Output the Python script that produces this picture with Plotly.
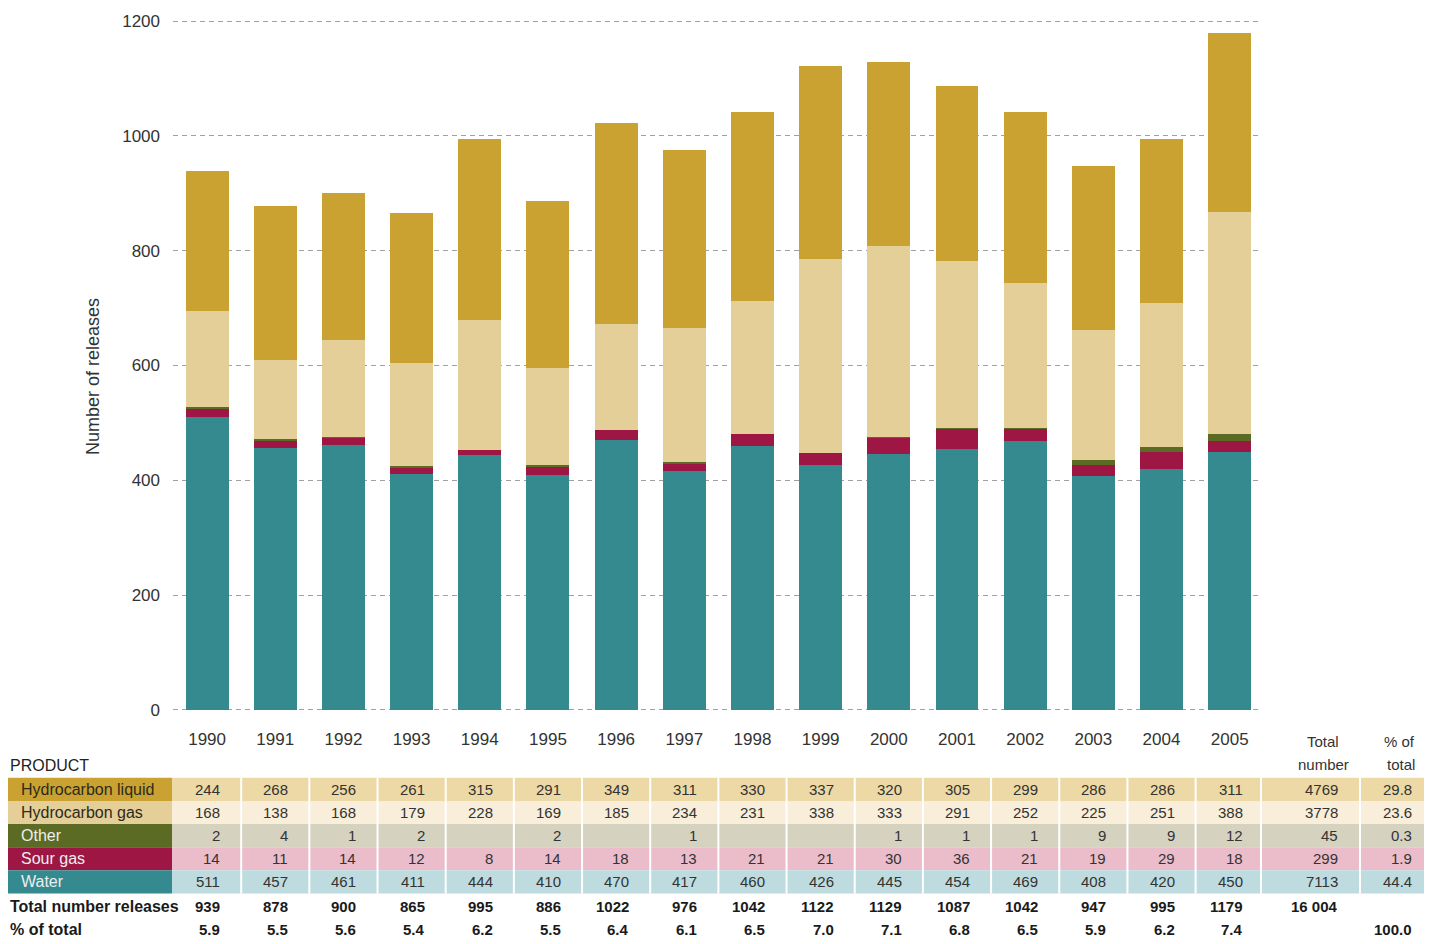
import plotly.graph_objects as go

# ---------------- data ----------------
years = ["1990", "1991", "1992", "1993", "1994", "1995", "1996", "1997",
         "1998", "1999", "2000", "2001", "2002", "2003", "2004", "2005"]
hc_liquid = [244, 268, 256, 261, 315, 291, 349, 311, 330, 337, 320, 305, 299, 286, 286, 311]
hc_gas = [168, 138, 168, 179, 228, 169, 185, 234, 231, 338, 333, 291, 252, 225, 251, 388]
other = [2, 4, 1, 2, None, 2, None, 1, None, None, 1, 1, 1, 9, 9, 12]
sour_gas = [14, 11, 14, 12, 8, 14, 18, 13, 21, 21, 30, 36, 21, 19, 29, 18]
water = [511, 457, 461, 411, 444, 410, 470, 417, 460, 426, 445, 454, 469, 408, 420, 450]
total_releases = [939, 878, 900, 865, 995, 886, 1022, 976, 1042, 1122, 1129, 1087, 1042, 947, 995, 1179]
pct_of_total = ["5.9", "5.5", "5.6", "5.4", "6.2", "5.5", "6.4", "6.1",
                "6.5", "7.0", "7.1", "6.8", "6.5", "5.9", "6.2", "7.4"]
product_labels = ["Hydrocarbon liquid", "Hydrocarbon gas", "Other", "Sour gas", "Water"]
product_total_number = ["4769", "3778", "45", "299", "7113"]
product_pct = ["29.8", "23.6", "0.3", "1.9", "44.4"]
grand_total = "16 004"
grand_pct = "100.0"
y_ticks = [0, 200, 400, 600, 800, 1000, 1200]

# ---------------- styles ----------------
FONT = "Liberation Sans, Arial, sans-serif"
bar_colors = {"Hydrocarbon liquid": "#C9A232", "Hydrocarbon gas": "#E3CF97",
              "Other": "#5B6B24", "Sour gas": "#9E1644", "Water": "#348A8F"}
row_bg = {"Hydrocarbon liquid": "#EDD9A5", "Hydrocarbon gas": "#F8EEDA",
          "Other": "#D5D2C0", "Sour gas": "#EBBDCB", "Water": "#BEDCDF"}
label_txt = {"Hydrocarbon liquid": "#2e2a1a", "Hydrocarbon gas": "#2e2a1a",
             "Other": "#eeeeee", "Sour gas": "#eeeeee", "Water": "#eeeeee"}

W, H = 1435, 944
L, R, T, B = 173, 1259, 18, 711
XMIN, XMAX = -0.5, 15.43
YMIN, YMAX = -2, 1202


def px(x):
    return (x - L) / (R - L)


def py(y):
    return (B - y) / (B - T)


def col_center(i):
    return L + (i - XMIN) / (XMAX - XMIN) * (R - L)


series = [("Water", water), ("Sour gas", sour_gas), ("Other", other),
          ("Hydrocarbon gas", hc_gas), ("Hydrocarbon liquid", hc_liquid)]

fig = go.Figure()
for name, vals in series:
    fig.add_trace(go.Bar(x=years, y=vals, name=name,
                         marker=dict(color=bar_colors[name], line=dict(width=0)),
                         hoverinfo="x+y+name"))

shapes = []
annotations = []

# y axis title
annotations.append(dict(xref="paper", yref="paper", x=px(93), y=py(376),
                        text="Number of releases", textangle=-90, showarrow=False,
                        font=dict(family=FONT, size=18, color="#333333"),
                        xanchor="center", yanchor="middle"))

# table rows
row_top0 = 778
row_h = 23.2
for k, (name, vals) in enumerate([("Hydrocarbon liquid", hc_liquid), ("Hydrocarbon gas", hc_gas),
                                   ("Other", other), ("Sour gas", sour_gas), ("Water", water)]):
    top = row_top0 + k * row_h
    bot = top + row_h
    cy = (top + bot) / 2
    shapes.append(dict(type="rect", xref="paper", yref="paper", x0=px(172), x1=px(1424),
                       y0=py(bot), y1=py(top), fillcolor=row_bg[name], line=dict(width=0),
                       layer="below"))
    shapes.append(dict(type="rect", xref="paper", yref="paper", x0=px(8), x1=px(172),
                       y0=py(bot), y1=py(top), fillcolor=bar_colors[name], line=dict(width=0),
                       layer="below"))
    annotations.append(dict(xref="paper", yref="paper", x=px(19), y=py(cy), text=name,
                            showarrow=False, xanchor="left", yanchor="middle",
                            font=dict(family=FONT, size=16, color=label_txt[name])))
    for i, v in enumerate(vals):
        if v is None:
            continue
        annotations.append(dict(xref="paper", yref="paper", x=px(col_center(i) + 15), y=py(cy),
                                text=str(v), showarrow=False, xanchor="right", yanchor="middle",
                                font=dict(family=FONT, size=15, color="#333333")))
    annotations.append(dict(xref="paper", yref="paper", x=px(1340), y=py(cy),
                            text=product_total_number[k], showarrow=False, xanchor="right",
                            yanchor="middle", font=dict(family=FONT, size=15, color="#333333")))
    annotations.append(dict(xref="paper", yref="paper", x=px(1414), y=py(cy),
                            text=product_pct[k], showarrow=False, xanchor="right",
                            yanchor="middle", font=dict(family=FONT, size=15, color="#333333")))

table_top = row_top0
table_bot = row_top0 + 5 * row_h
# white column separators
sep_x = [(col_center(i) + col_center(i + 1)) / 2 for i in range(len(years) - 1)] + [1261, 1360]
for sx in sep_x:
    shapes.append(dict(type="line", xref="paper", yref="paper", x0=px(sx), x1=px(sx),
                       y0=py(table_bot), y1=py(table_top), line=dict(color="white", width=2),
                       layer="below"))

# header texts
annotations.append(dict(xref="paper", yref="paper", x=px(8), y=py(766), text="PRODUCT",
                        showarrow=False, xanchor="left", yanchor="middle",
                        font=dict(family=FONT, size=16, color="#222222")))
hdr = dict(family=FONT, size=15, color="#333333")
annotations.append(dict(xref="paper", yref="paper", x=px(1323), y=py(742), text="Total",
                        showarrow=False, xanchor="center", yanchor="middle", font=hdr))
annotations.append(dict(xref="paper", yref="paper", x=px(1323), y=py(765), text="number",
                        showarrow=False, xanchor="center", yanchor="middle", font=hdr))
annotations.append(dict(xref="paper", yref="paper", x=px(1417), y=py(742), text="% of",
                        showarrow=False, xanchor="right", yanchor="middle", font=hdr))
annotations.append(dict(xref="paper", yref="paper", x=px(1417), y=py(765), text="total",
                        showarrow=False, xanchor="right", yanchor="middle", font=hdr))

# totals rows
bold = dict(family=FONT, size=15, color="#1a1a1a")
bold_lbl = dict(family=FONT, size=16, color="#1a1a1a")
annotations.append(dict(xref="paper", yref="paper", x=px(8), y=py(907),
                        text="<b>Total number releases</b>", showarrow=False, xanchor="left",
                        yanchor="middle", font=bold_lbl))
annotations.append(dict(xref="paper", yref="paper", x=px(8), y=py(930),
                        text="<b>% of total</b>", showarrow=False, xanchor="left",
                        yanchor="middle", font=bold_lbl))
for i in range(len(years)):
    annotations.append(dict(xref="paper", yref="paper", x=px(col_center(i) + 15), y=py(907),
                            text="<b>%d</b>" % total_releases[i], showarrow=False,
                            xanchor="right", yanchor="middle", font=bold))
    annotations.append(dict(xref="paper", yref="paper", x=px(col_center(i) + 15), y=py(930),
                            text="<b>%s</b>" % pct_of_total[i], showarrow=False,
                            xanchor="right", yanchor="middle", font=bold))
annotations.append(dict(xref="paper", yref="paper", x=px(1340), y=py(907),
                        text="<b>%s</b>" % grand_total, showarrow=False, xanchor="right",
                        yanchor="middle", font=bold))
annotations.append(dict(xref="paper", yref="paper", x=px(1414), y=py(930),
                        text="<b>%s</b>" % grand_pct, showarrow=False, xanchor="right",
                        yanchor="middle", font=bold))

fig.update_layout(
    width=W, height=H, autosize=False,
    margin=dict(l=L, r=W - R, t=T, b=H - B, pad=0),
    barmode="stack", bargap=0.37,
    plot_bgcolor="white", paper_bgcolor="white",
    showlegend=False,
    shapes=shapes, annotations=annotations,
    xaxis=dict(type="category", range=[XMIN, XMAX], showgrid=False, zeroline=False,
               showline=False, ticks="", ticklabelstandoff=16,
               tickfont=dict(family=FONT, size=17, color="#333333"), fixedrange=True),
    yaxis=dict(range=[YMIN, YMAX], tickvals=y_ticks, showgrid=True, gridcolor="#a0a0a0",
               griddash="5px,4px", gridwidth=1, zeroline=False, showline=False,
               ticks="", ticklabelstandoff=12,
               tickfont=dict(family=FONT, size=17, color="#333333"), fixedrange=True),
)

fig.write_html("out.html", config={"displayModeBar": False},
               post_script="document.body.style.margin='0';")
